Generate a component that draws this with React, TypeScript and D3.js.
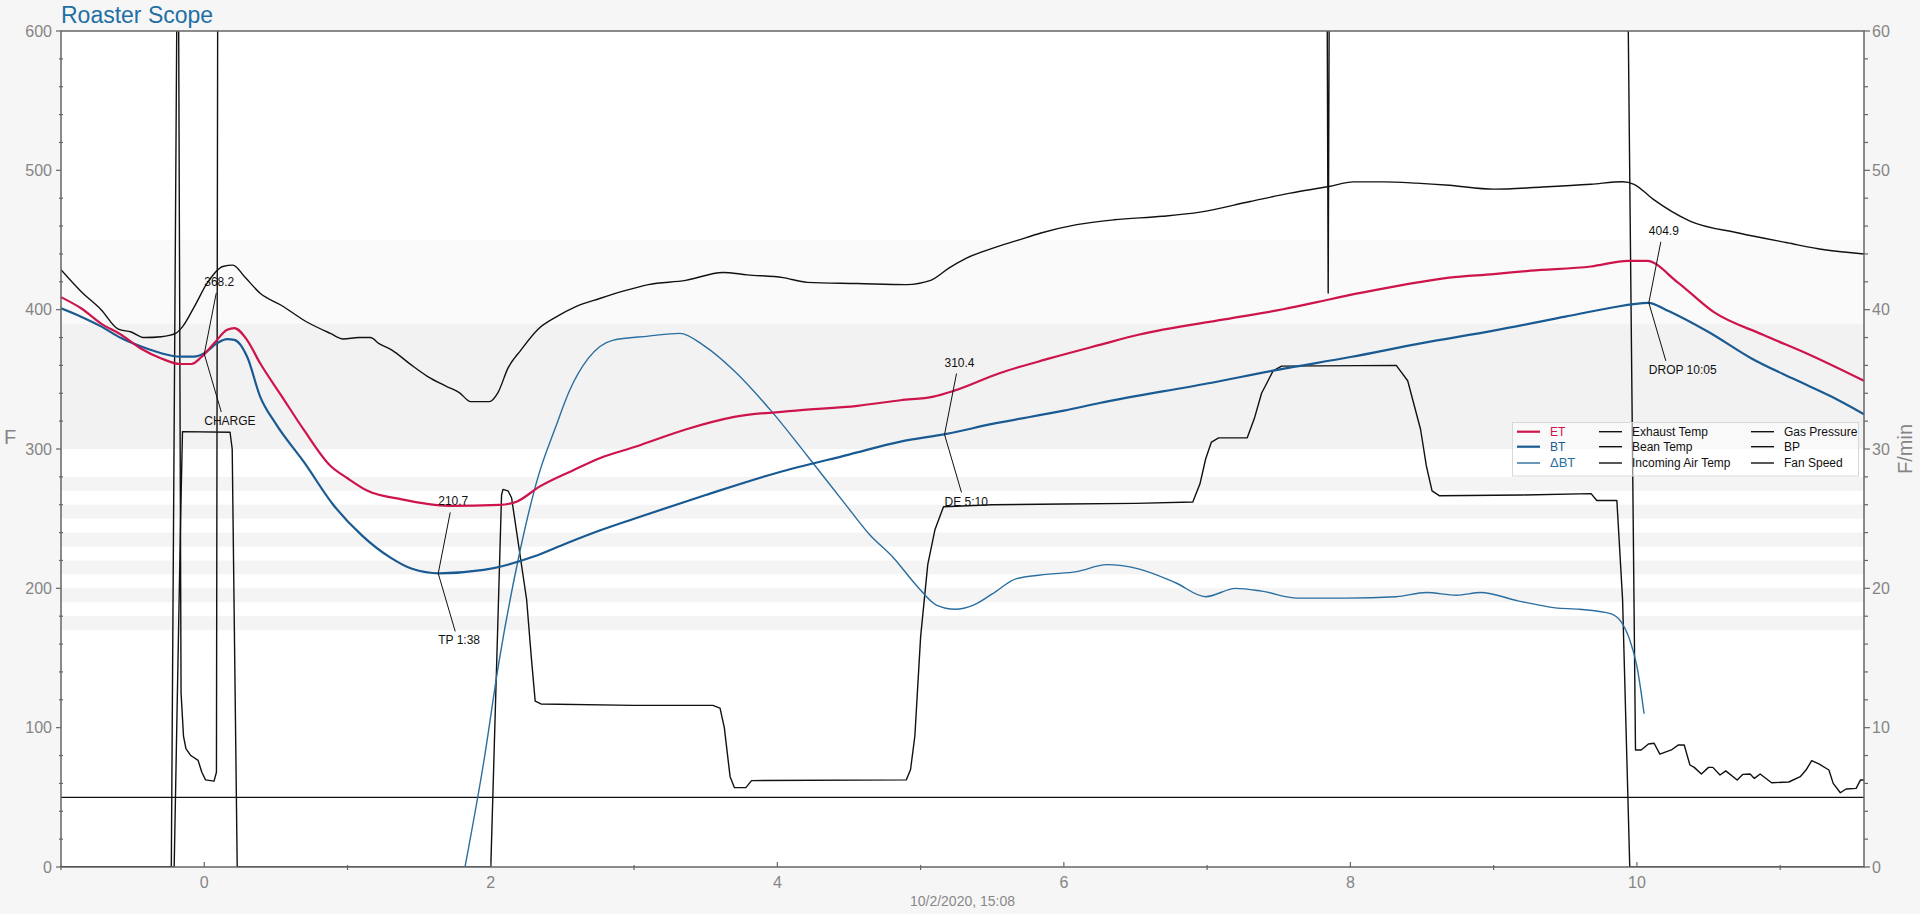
import React from 'react';
import * as d3 from 'd3';

// roast curves, [minutes, value]
const etData: [number, number][] = [
  [-1.0, 409], [-0.86, 401], [-0.72, 390], [-0.58, 382], [-0.44, 372], [-0.3, 365],
  [-0.17, 361], [-0.09, 361], [-0.02, 366], [0.07, 376], [0.16, 385.5], [0.21, 386.7],
  [0.3, 378], [0.39, 361.5], [0.54, 338], [0.7, 313], [0.88, 288], [1.0, 279],
  [1.14, 270], [1.37, 264], [1.71, 259.2], [2.06, 259.9], [2.18, 262.2], [2.34, 273],
  [2.58, 285], [2.76, 293.4], [3.02, 302], [3.36, 314], [3.7, 323], [4.13, 327.5],
  [4.56, 331], [4.86, 335], [5.09, 337.6], [5.23, 341.7], [5.55, 354.4], [5.9, 365],
  [6.25, 374.7], [6.52, 382], [7.12, 393], [7.53, 400.3], [7.86, 407.5], [8.0, 410.6],
  [8.18, 414.2], [8.46, 419.4], [8.69, 423], [9.0, 425.5], [9.26, 428], [9.68, 431],
  [9.94, 435], [10.07, 435], [10.28, 420], [10.54, 398], [10.88, 382], [11.22, 367],
  [11.585, 349],
];

const btData: [number, number][] = [
  [-1.0, 401], [-0.86, 395], [-0.72, 388], [-0.58, 379.6], [-0.44, 373.5], [-0.3, 368.7],
  [-0.17, 366.3], [-0.07, 366.3], [0.0, 368.7], [0.09, 376], [0.16, 378.8], [0.21, 378.3],
  [0.3, 366], [0.39, 337.6], [0.5, 318], [0.7, 290], [0.9, 260], [1.1, 238], [1.3, 222],
  [1.45, 214], [1.64, 210.8], [1.95, 213.2], [2.3, 222.8], [2.53, 232.4], [2.76, 241.5],
  [3.0, 250], [3.5, 267], [4.0, 283], [4.5, 296], [4.86, 305.3], [5.18, 310.8], [5.5, 318],
  [6.0, 327.5], [6.25, 333], [7.0, 347], [7.5, 357], [8.0, 366], [8.5, 376], [9.0, 385],
  [9.5, 395], [9.8, 401], [10.08, 404.9], [10.2, 400], [10.5, 384], [10.8, 365],
  [11.1, 350], [11.35, 338], [11.585, 325],
];

// F/min (right axis)
const rorData: [number, number][] = [
  [1.82, 0], [1.95, 7.5], [2.06, 14.9], [2.2, 22.5], [2.33, 28], [2.45, 31.5], [2.55, 34.2],
  [2.68, 36.5], [2.85, 37.8], [3.1, 38.1], [3.32, 38.3], [3.49, 37.4], [3.7, 35.6],
  [3.96, 32.7], [4.21, 29.5], [4.47, 26.1], [4.64, 23.9], [4.81, 22.2], [4.98, 20.1],
  [5.11, 18.8], [5.24, 18.5], [5.37, 18.8], [5.5, 19.6], [5.67, 20.7], [5.88, 21.0],
  [6.09, 21.2], [6.3, 21.7], [6.52, 21.4], [6.78, 20.4], [6.99, 19.4], [7.2, 20],
  [7.38, 19.8], [7.63, 19.3], [7.97, 19.3], [8.32, 19.4], [8.53, 19.7], [8.74, 19.5],
  [8.91, 19.7], [9.17, 19.1], [9.43, 18.6], [9.6, 18.5], [9.81, 18.2], [9.89, 17.6],
  [9.95, 16.3], [10.0, 14.4], [10.03, 12.5], [10.05, 11.0],
];

const exhaustData: [number, number][] = [
  [-1.0, 428.6], [-0.86, 413], [-0.72, 400], [-0.6, 386], [-0.51, 384], [-0.42, 380],
  [-0.3, 380.6], [-0.2, 383], [-0.15, 388], [-0.07, 402], [0.02, 419], [0.13, 431],
  [0.2, 432], [0.28, 423.8], [0.39, 411.8], [0.54, 403], [0.71, 391.5], [0.88, 383],
  [0.97, 379], [1.08, 380], [1.16, 380], [1.22, 375.6], [1.31, 371], [1.44, 360.7],
  [1.56, 352], [1.69, 345], [1.78, 340.5], [1.86, 334], [1.99, 334], [2.05, 340.5],
  [2.12, 358], [2.21, 371], [2.33, 386], [2.46, 395], [2.59, 402], [2.76, 408],
  [2.93, 413.5], [3.1, 418], [3.36, 421], [3.62, 426.7], [3.79, 425], [4.04, 423],
  [4.21, 419.6], [4.56, 418.8], [4.9, 418], [5.07, 421], [5.2, 430], [5.32, 437],
  [5.5, 444], [5.67, 449.5], [5.84, 455], [6.09, 461], [6.35, 464.5], [6.69, 467],
  [6.95, 470], [7.3, 477.6], [7.58, 483.6], [7.85, 488.4], [8.02, 491.7], [8.23, 491.7],
  [8.46, 490.8], [8.69, 489.3], [9.0, 486.5], [9.34, 488], [9.68, 490], [9.9, 491.8],
  [9.98, 490], [10.11, 479.5], [10.37, 463.6], [10.71, 455], [11.05, 448], [11.31, 443],
  [11.585, 440],
];

const incomingAirData: [number, number][] = [
  [-1.0, 0], [-0.23, 0], [-0.186, 700], [-0.182, 700], [-0.162, 125], [-0.145, 94],
  [-0.128, 85], [-0.094, 80], [-0.043, 76.5], [-0.017, 68], [0.009, 62.5], [0.068, 61.6],
  [0.085, 68], [0.095, 700], [7.835, 700], [7.845, 412], [7.855, 700], [9.93, 700],
  [9.99, 84], [10.03, 84], [10.08, 88.3], [10.12, 88.8], [10.16, 81], [10.24, 84],
  [10.29, 87.6], [10.33, 87.6], [10.37, 73.2], [10.4, 71.5], [10.45, 66.7], [10.5, 71.5],
  [10.53, 71.5], [10.58, 66], [10.62, 69], [10.7, 62.4], [10.74, 66.5], [10.79, 66.7],
  [10.82, 63.6], [10.86, 66.7], [10.94, 60.5], [11.06, 61], [11.14, 64.8], [11.18, 69.6],
  [11.22, 76.3], [11.27, 74], [11.34, 69.6], [11.37, 60], [11.42, 53.3], [11.46, 56],
  [11.53, 56.4], [11.56, 62.4], [11.585, 62.4],
];

const gasData: [number, number][] = [
  [-1.0, 0], [-0.21, 0], [-0.165, 250], [-0.152, 312.5], [0.18, 312], [0.195, 300],
  [0.23, 0], [2.0, 0], [2.075, 267], [2.085, 271], [2.12, 270], [2.145, 265],
  [2.25, 192], [2.284, 149], [2.31, 119], [2.35, 117], [3.0, 116], [3.55, 116],
  [3.6, 114], [3.63, 100], [3.67, 65], [3.7, 57], [3.78, 57], [3.82, 62], [4.9, 62.5],
  [4.93, 70], [4.96, 94], [5.0, 165], [5.05, 217], [5.1, 242], [5.16, 258.6],
  [5.5, 260], [6.0, 260.5], [6.5, 261], [6.9, 262], [6.95, 275], [6.99, 293],
  [7.03, 305], [7.08, 308], [7.28, 308], [7.33, 322], [7.38, 340], [7.46, 356],
  [7.52, 359.5], [8.32, 360], [8.4, 349], [8.49, 314], [8.53, 288], [8.57, 270],
  [8.62, 266.5], [9.2, 267], [9.68, 268], [9.72, 263], [9.86, 263], [9.9, 191.7],
  [9.95, 0], [11.585, 0],
];

const fanData: [number, number][] = [[-1.0, 50], [11.585, 50]];
const beanTempData: [number, number][] = [];
const bpData: [number, number][] = [];

const mainBand: [number, number] = [300, 390];
const upperBand: [number, number] = [390, 450];
const stripeBands: [number, number][] = [[170, 180], [190, 200], [210, 220], [230, 240], [250, 260], [270, 280]];

const events = [
  { t: 0, v: 368.2, value: '368.2', label: 'CHARGE' },
  { t: 1.633, v: 210.7, value: '210.7', label: 'TP 1:38' },
  { t: 5.167, v: 310.4, value: '310.4', label: 'DE 5:10' },
  { t: 10.083, v: 404.9, value: '404.9', label: 'DROP 10:05' },
];

const leftTicks = [0, 100, 200, 300, 400, 500, 600];
const rightTicks = [0, 10, 20, 30, 40, 50, 60];
const timeTicks = [0, 2, 4, 6, 8, 10];
const timeMinor = [-1, 1, 3, 5, 7, 9, 11];

const legendCols = [
  [
    { name: 'ET', color: '#cd144b', w: 2.2, text: '#cd144b' },
    { name: 'BT', color: '#1a5a92', w: 2.2, text: '#1a5a92' },
    { name: 'ΔBT', color: '#2a6ea0', w: 1.4, text: '#2a6ea0' },
  ],
  [
    { name: 'Exhaust Temp', color: '#111', w: 1.4, text: '#111' },
    { name: 'Bean Temp', color: '#111', w: 1.4, text: '#111' },
    { name: 'Incoming Air Temp', color: '#111', w: 1.4, text: '#111' },
  ],
  [
    { name: 'Gas Pressure', color: '#111', w: 1.4, text: '#111' },
    { name: 'BP', color: '#111', w: 1.4, text: '#111' },
    { name: 'Fan Speed', color: '#111', w: 1.4, text: '#111' },
  ],
];

const FONT = '"Liberation Sans", Arial, Helvetica, sans-serif';

const App = () => {
  const W = 1920, H = 914;
  const L = 61, R = 1864, T = 31, B = 867;

  const x = d3.scaleLinear().domain([-1, 11.585]).range([L, R]);
  const yL = d3.scaleLinear().domain([0, 600]).range([B, T]);
  const yR = d3.scaleLinear().domain([0, 60]).range([B, T]);

  const smooth = d3.line<[number, number]>().x(d => x(d[0])).y(d => yL(d[1])).curve(d3.curveMonotoneX);
  const straight = d3.line<[number, number]>().x(d => x(d[0])).y(d => yL(d[1]));
  const rorLine = d3.line<[number, number]>().x(d => x(d[0])).y(d => yR(d[1])).curve(d3.curveMonotoneX);

  const bandRect = (r: [number, number], fill: string, key: string) => (
    <rect key={key} x={L} width={R - L} y={yL(r[1])} height={yL(r[0]) - yL(r[1])} fill={fill} />
  );

  const minorL = d3.range(0, 601, 20).filter(v => v % 100 !== 0);

  return (
    <svg width={W} height={H} style={{ position: 'absolute', left: 0, top: 0, fontFamily: FONT }}>
      <rect width={W} height={H} fill="#f6f6f6" />
      <defs>
        <clipPath id="plot"><rect x={L} y={T} width={R - L} height={B - T} /></clipPath>
      </defs>
      <rect x={L} y={T} width={R - L} height={B - T} fill="#fff" />
      {bandRect(upperBand, '#fafafa', 'ub')}
      {bandRect(mainBand, '#f2f2f2', 'mb')}
      {stripeBands.map((b, i) => bandRect(b, '#f4f4f4', 's' + i))}

      <g clipPath="url(#plot)" fill="none" strokeLinejoin="round">
        <path d={straight(fanData) || ''} stroke="#111" strokeWidth={1.4} />
        <path d={straight(beanTempData) || ''} stroke="#111" strokeWidth={1.4} />
        <path d={straight(bpData) || ''} stroke="#111" strokeWidth={1.4} />
        <path d={straight(gasData) || ''} stroke="#111" strokeWidth={1.4} />
        <path d={straight(incomingAirData) || ''} stroke="#111" strokeWidth={1.4} />
        <path d={smooth(exhaustData) || ''} stroke="#111" strokeWidth={1.4} />
        <path d={rorLine(rorData) || ''} stroke="#2a6ea0" strokeWidth={1.4} />
        <path d={smooth(btData) || ''} stroke="#1a5a92" strokeWidth={2.2} />
        <path d={smooth(etData) || ''} stroke="#cd144b" strokeWidth={2.2} />
      </g>

      {/* event annotations */}
      {events.map(e => {
        const px = x(e.t), py = yL(e.v);
        return (
          <g key={e.label} fontSize={12} fill="#111">
            <line x1={px} y1={py} x2={px + 12} y2={py - 61} stroke="#111" strokeWidth={1} />
            <line x1={px} y1={py} x2={px + 17} y2={py + 58} stroke="#111" strokeWidth={1} />
            <text x={px} y={py - 68}>{e.value}</text>
            <text x={px} y={py + 71}>{e.label}</text>
          </g>
        );
      })}

      {/* frame */}
      <rect x={L} y={T} width={R - L} height={B - T} fill="none" stroke="#666" strokeWidth={1.5} />

      {/* ticks */}
      <g stroke="#666" strokeWidth={1.2}>
        {leftTicks.map(v => <line key={'lt' + v} x1={L - 5} x2={L} y1={yL(v)} y2={yL(v)} />)}
        {minorL.map(v => <line key={'lm' + v} x1={L - 2} x2={L + 2} y1={yL(v)} y2={yL(v)} />)}
        {rightTicks.map(v => <line key={'rt' + v} x1={R} x2={R + 6} y1={yR(v)} y2={yR(v)} />)}
        {minorL.map(v => <line key={'rm' + v} x1={R} x2={R + 4} y1={yL(v)} y2={yL(v)} />)}
        {timeTicks.map(v => <line key={'bt' + v} x1={x(v)} x2={x(v)} y1={B - 5} y2={B} />)}
        {timeMinor.map(v => <line key={'bm' + v} x1={x(v)} x2={x(v)} y1={B - 2} y2={B + 3} />)}
      </g>
      <g fill="#858585" fontSize={16}>
        {leftTicks.map(v => (
          <text key={'ll' + v} x={L - 9} y={yL(v)} dy="0.35em" textAnchor="end">{v}</text>
        ))}
        {rightTicks.map(v => (
          <text key={'rl' + v} x={R + 8} y={yR(v)} dy="0.35em">{v}</text>
        ))}
        {timeTicks.map(v => (
          <text key={'tl' + v} x={x(v)} y={888} textAnchor="middle">{v}</text>
        ))}
      </g>
      <text x={(L + R) / 2} y={906} textAnchor="middle" fontSize={14} fill="#888">10/2/2020, 15:08</text>
      <text x={4} y={444} fontSize={20} fill="#858585">F</text>
      <text transform={`translate(1912, ${(T + B) / 2}) rotate(-90)`} textAnchor="middle" fontSize={20} fill="#858585">F/min</text>

      <text x={61} y={23} fontSize={23} fill="#1f6fa5">Roaster Scope</text>

      {/* legend */}
      <g>
        <rect x={1512.5} y={422.5} width={346} height={53.5} fill="rgba(255,255,255,0.55)" stroke="#d8d8d8" />
        {legendCols.map((col, ci) => {
          const lx = [1517, 1599, 1751][ci];
          const tx = [1550, 1632, 1784][ci];
          return col.map((item, ri) => {
            const ry = [431.7, 446.7, 463][ri];
            return (
              <g key={item.name}>
                <line x1={lx} x2={lx + 23} y1={ry} y2={ry} stroke={item.color} strokeWidth={item.w} />
                <text x={tx} y={ry + 4.3} fontSize={item.name === 'ΔBT' ? 13 : 12} fill={item.text}>{item.name}</text>
              </g>
            );
          });
        })}
      </g>
    </svg>
  );
};

export default App;
